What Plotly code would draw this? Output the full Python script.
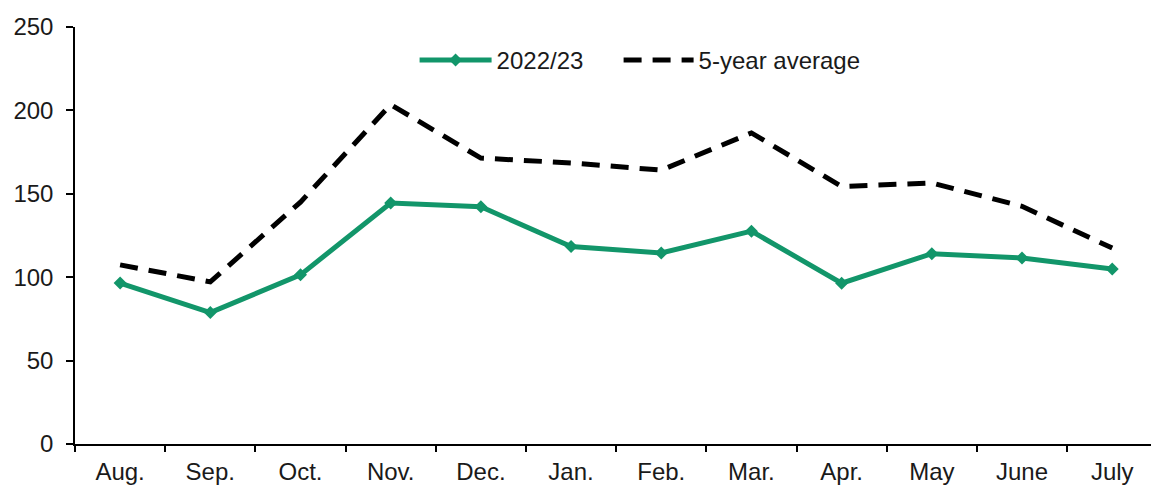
import plotly.graph_objects as go

months = ["Aug.", "Sep.", "Oct.", "Nov.", "Dec.", "Jan.", "Feb.", "Mar.", "Apr.", "May", "June", "July"]
season_2022_23 = [96.5, 78.8, 101.4, 144.5, 142.2, 118.4, 114.5, 127.6, 96.4, 114.1, 111.5, 104.9]
five_year_avg = [107.4, 97.2, 145.0, 203.5, 171.4, 168.5, 164.2, 186.5, 154.4, 156.5, 142.5, 117.5]
y_ticks = [0, 50, 100, 150, 200, 250]

GREEN = "#12966a"
FONT = "Liberation Sans, Arial, sans-serif"

fig = go.Figure()
fig.add_trace(go.Scatter(
    x=months, y=season_2022_23, name="2022/23", mode="lines+markers",
    line=dict(color=GREEN, width=5),
    marker=dict(symbol="diamond", size=10, color=GREEN),
    legend="legend",
))
fig.add_trace(go.Scatter(
    x=months, y=five_year_avg, name="5-year average", mode="lines",
    line=dict(color="#000000", width=5, dash="18px,11px"),
    legend="legend2",
))

legend_common = dict(
    orientation="h", xanchor="left", y=0.92, yanchor="middle",
    bgcolor="rgba(0,0,0,0)", font=dict(size=24),
)

fig.update_layout(
    width=1151, height=485,
    margin=dict(l=75, r=0, t=27, b=41),
    paper_bgcolor="white", plot_bgcolor="white",
    font=dict(family=FONT, size=24, color="#1a1a1a"),
    showlegend=True,
    legend=dict(x=0.3156, itemwidth=72, **legend_common),
    legend2=dict(x=0.5052, itemwidth=70, **legend_common),
    xaxis=dict(
        type="category", range=[-0.5, 11.43],
        showline=True, linecolor="black", linewidth=2,
        ticks="outside", tickson="boundaries", ticklen=6, tickcolor="black", tickwidth=2,
        showgrid=False, zeroline=False, ticklabelstandoff=5,
    ),
    yaxis=dict(
        range=[0, 250], tickvals=y_ticks,
        showline=True, linecolor="black", linewidth=1.5,
        ticks="outside", ticklen=7, tickcolor="black", tickwidth=1.5,
        showgrid=False, zeroline=False, ticklabelstandoff=8,
    ),
)

fig.write_html("out.html")
